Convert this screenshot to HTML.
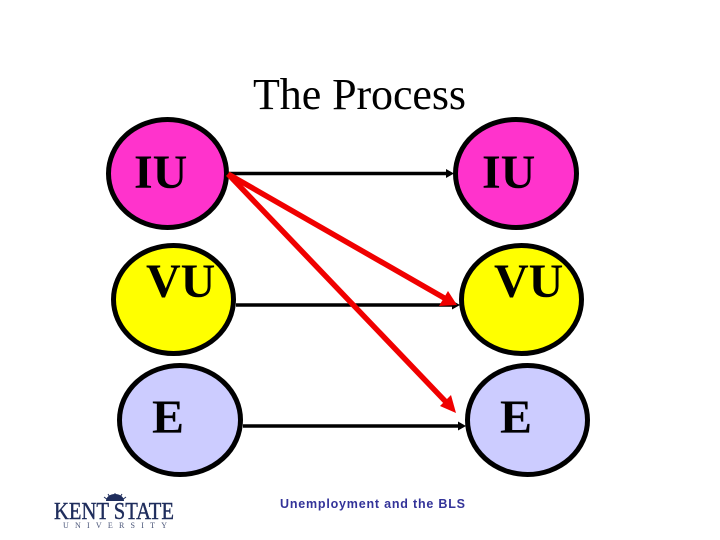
<!DOCTYPE html>
<html>
<head>
<meta charset="utf-8">
<style>
html,body{margin:0;padding:0;background:#fff}
svg{display:block}
.s{font-family:"Liberation Serif",serif}
.b{font-family:"Liberation Serif",serif;font-weight:bold;font-size:48px;fill:#000}
</style>
</head>
<body>
<svg width="720" height="540" viewBox="0 0 720 540" xmlns="http://www.w3.org/2000/svg">
<rect width="720" height="540" fill="#fff"/>
<text class="s" x="253" y="109" font-size="44" textLength="213" fill="#000">The Process</text>

<g stroke="#000" stroke-width="5">
<ellipse cx="167.5" cy="173.5" rx="59" ry="54" fill="#ff33cc"/>
<ellipse cx="516" cy="173.5" rx="60.500" ry="54" fill="#ff33cc"/>
<ellipse cx="173.500" cy="299.500" rx="60" ry="54" fill="#ffff00"/>
<ellipse cx="521.500" cy="299.500" rx="60" ry="54" fill="#ffff00"/>
<ellipse cx="180" cy="420" rx="60.500" ry="54.500" fill="#ccccff"/>
<ellipse cx="527.500" cy="420" rx="60" ry="54.500" fill="#ccccff"/>
</g>

<g stroke="#000" stroke-width="3.500" fill="none">
<line x1="229" y1="173.500" x2="447" y2="173.500"/>
<line x1="236" y1="305" x2="453" y2="305"/>
<line x1="243" y1="426" x2="459" y2="426"/>
</g>
<g fill="#000">
<polygon points="454,173.500 446,169 446,178"/>
<polygon points="460,305 452,300.500 452,309.500"/>
<polygon points="466,426 458,421.500 458,430.500"/>
</g>

<g stroke="#f00000" stroke-width="5.500" fill="none">
<line x1="228" y1="174" x2="446" y2="299"/>
<line x1="228" y1="174" x2="446" y2="402"/>
</g>
<g fill="#f00000">
<polygon points="457,305 439,306 448,291"/>
<polygon points="456,413 440,406 451,395"/>
</g>

<text class="b" x="134" y="188">IU</text>
<text class="b" x="482" y="188">IU</text>
<text class="b" x="146" y="297">VU</text>
<text class="b" x="494" y="297">VU</text>
<text class="b" x="152" y="433">E</text>
<text class="b" x="500" y="433">E</text>

<text x="280" y="508" font-family="'Liberation Sans',sans-serif" font-size="12.500" font-weight="bold" textLength="185" fill="#333399">Unemployment and the BLS</text>

<g fill="#1f2d5c">
<text class="s" x="54" y="519" font-size="24" textLength="120" lengthAdjust="spacingAndGlyphs" stroke="#1f2d5c" stroke-width="0.400">KENT STATE</text>
<text class="s" x="63" y="528" font-size="8" textLength="104" fill="#4a5578">UNIVERSITY</text>
<path d="M106 501 A9 7 0 0 1 124 501 Z"/>
<g stroke="#1f2d5c" stroke-width="1">
<line x1="115" y1="499" x2="115" y2="493"/>
<line x1="111" y1="499" x2="108" y2="494"/>
<line x1="119" y1="499" x2="122" y2="494"/>
<line x1="108" y1="500" x2="104" y2="497"/>
<line x1="122" y1="500" x2="126" y2="497"/>
</g>
</g>
</svg>
</body>
</html>
